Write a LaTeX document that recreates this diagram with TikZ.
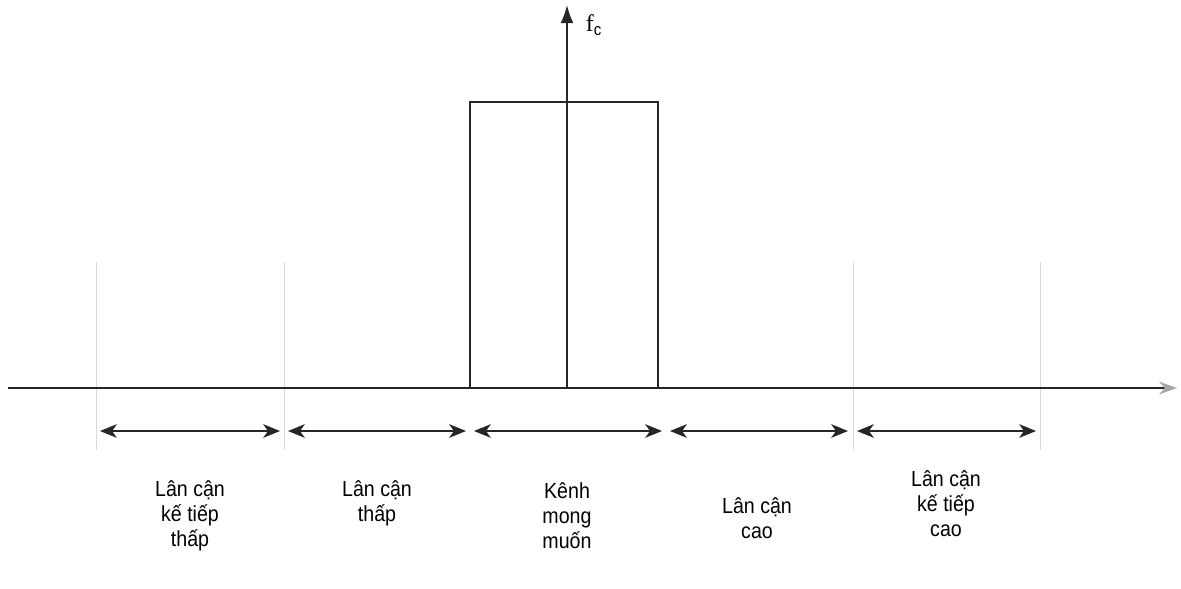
\documentclass[tikz,border=0pt]{standalone}
\usepackage{fontspec}
\setmainfont{Liberation Sans}[FakeStretch=0.9]
\newfontfamily\serifface{Liberation Serif}
\usepackage{xcolor}
\usetikzlibrary{positioning, arrows.meta}
\definecolor{guide}{HTML}{DADADA}
\definecolor{tipgray}{HTML}{A8A8A8}

\begin{document}
\begin{tikzpicture}[x=0.025cm, y=-0.025cm,
      every node/.style={font=\fontsize{15.5}{17.7}\selectfont, align=center},
      axis/.style={line width=1.3pt, color=black!85},
      guideline/.style={line width=0.6pt, color=guide},
      band/.style={{Stealth[length=4.2mm, width=3.4mm, inset=1.2mm]}-{Stealth[length=4.2mm, width=3.4mm, inset=1.2mm]}, line width=1pt, color=black!85},
      lbl/.style={inner sep=0pt}]
    \useasboundingbox (0,0) rectangle (1181,588);
    % frequency axis and channel
    \coordinate (ax0) at (8,388);
    \coordinate (ax1) at (1177,388);
    \coordinate (fc0) at (567,388);
    \coordinate (fc1) at (567,5);
    \draw[guideline] (96,262) -- (96,450);
    \draw[guideline] (284,262) -- (284,450);
    \draw[guideline] (853,262) -- (853,450);
    \draw[guideline] (1040,262) -- (1040,450);
    \draw[axis, -{Stealth[length=4.5mm, width=3.2mm, color=tipgray]}] (ax0) -- (ax1);
    \draw[axis] (470,388) rectangle (658,102);
    \draw[axis, -{Latex[length=4.5mm, width=3.2mm]}] (fc0) -- (fc1);
    \node[font=\serifface\fontsize{17}{20}\selectfont, anchor=west] (fc) at (581,25) {f$_{\mathrm{c}}$};
    % channel bands
    \coordinate (b0) at (100,431);
    \coordinate (b1) at (280,431);
    \coordinate (b2) at (288,431);
    \coordinate (b3) at (466,431);
    \coordinate (b4) at (474,431);
    \coordinate (b5) at (662,431);
    \coordinate (b6) at (670,431);
    \coordinate (b7) at (848,431);
    \coordinate (b8) at (857,431);
    \coordinate (b9) at (1036,431);
    \draw[band] (b0) -- (b1);
    \draw[band] (b2) -- (b3);
    \draw[band] (b4) -- (b5);
    \draw[band] (b6) -- (b7);
    \draw[band] (b8) -- (b9);
    \node[lbl] (lowlow) at (190,516) {Lân cận\\kế tiếp\\thấp};
    \node[lbl] (low) at (377,503) {Lân cận\\thấp};
    \node[lbl] (want) at (567,516) {Kênh\\mong\\muốn};
    \node[lbl] (high) at (757,518) {Lân cận\\cao};
    \node[lbl] (highhigh) at (946,504) {Lân cận\\kế tiếp\\cao};
  \end{tikzpicture}
\end{document}
